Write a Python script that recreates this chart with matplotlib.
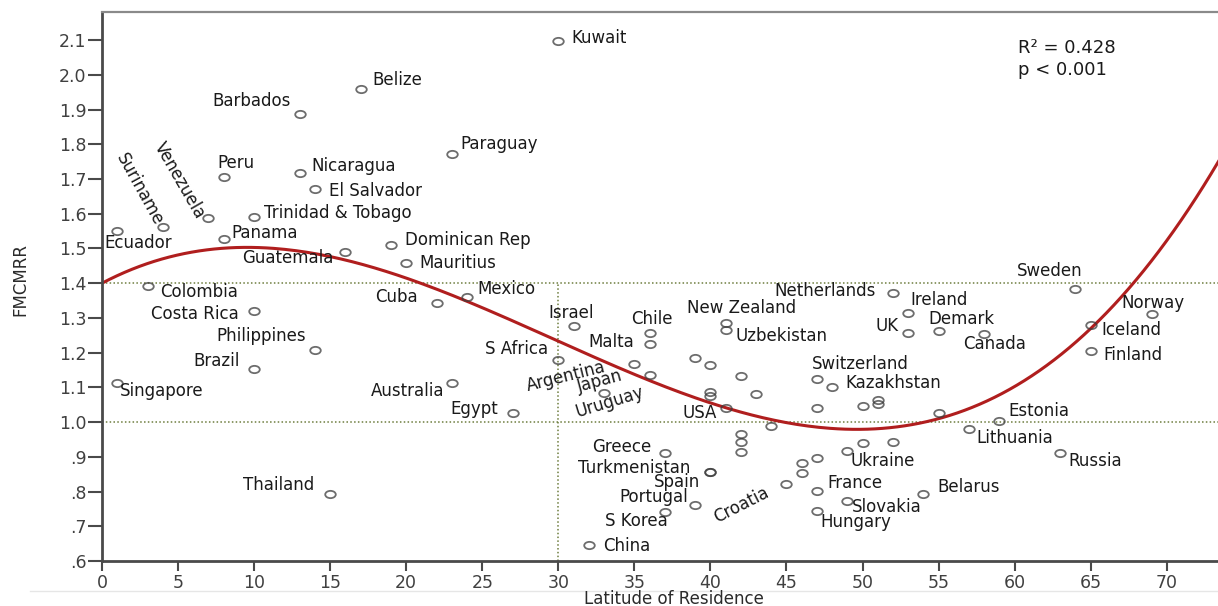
import numpy as np
import matplotlib
matplotlib.use('Agg')
import matplotlib.pyplot as plt
from matplotlib.path import Path
from matplotlib.markers import MarkerStyle
from matplotlib.transforms import Affine2D
from matplotlib.lines import Line2D

# latitude of residence and FMCMRR per country ('' = unlabelled point)
countries = ['Kuwait', 'Belize', 'Barbados', 'Paraguay', 'Peru', 'Nicaragua',
             'El Salvador', 'Trinidad & Tobago', 'Venezuela', 'Suriname',
             'Ecuador', 'Panama', 'Guatemala', 'Dominican Rep', 'Mauritius',
             'Colombia', 'Cuba', 'Mexico', 'Costa Rica', 'Philippines',
             'Brazil', 'Singapore', 'Australia', 'Egypt', 'Thailand',
             'Israel', 'Chile', 'Malta', 'S Africa', 'Argentina', 'Japan',
             'Uruguay', 'USA', 'New Zealand', 'Uzbekistan', 'Netherlands',
             'Ireland', 'UK', 'Demark', 'Canada', 'Sweden', 'Norway',
             'Iceland', 'Finland', 'Switzerland', 'Kazakhstan', 'Estonia',
             'Lithuania', 'Russia', 'Ukraine', 'France', 'Belarus',
             'Slovakia', 'Hungary', 'Croatia', 'Greece', 'Turkmenistan',
             'Spain', 'Portugal', 'S Korea', 'China',
             '', '', '', '', '', '', '', '', '', '',
             '', '', '', '', '', '', '', '', '', '']
latitude = [30, 17, 13, 23, 8, 13,
            14, 10, 7, 4,
            1, 8, 16, 19, 20,
            3, 22, 24, 10, 14,
            10, 1, 23, 27, 15,
            31, 36, 36, 30, 35, 36,
            33, 41, 41, 41, 52,
            53, 53, 55, 58, 64, 69,
            65, 65, 47, 48, 59,
            57, 63, 49, 47, 54,
            49, 47, 45, 37, 40,
            40, 39, 37, 32,
            39, 40, 42, 40, 40, 43, 44, 42, 42, 42,
            46, 46, 47, 47, 50, 51, 51, 55, 50, 52]
fmcmrr = [2.097, 1.960, 1.887, 1.771, 1.705, 1.717,
          1.671, 1.590, 1.587, 1.561,
          1.550, 1.527, 1.489, 1.509, 1.457,
          1.391, 1.342, 1.360, 1.319, 1.209,
          1.152, 1.114, 1.114, 1.025, 0.792,
          1.276, 1.258, 1.224, 1.178, 1.166, 1.137,
          1.083, 1.042, 1.284, 1.264, 1.371,
          1.313, 1.258, 1.261, 1.253, 1.382, 1.310,
          1.279, 1.204, 1.123, 1.100, 1.002,
          0.979, 0.910, 0.916, 0.803, 0.792,
          0.774, 0.743, 0.823, 0.910, 0.855,
          0.855, 0.762, 0.740, 0.645,
          1.186, 1.163, 1.132, 1.086, 1.074, 1.080, 0.988, 0.967, 0.944, 0.913,
          0.852, 0.881, 0.898, 1.040, 1.045, 1.063, 1.051, 1.025, 0.939, 0.944]

# cubic fit: FMCMRR = b0 + b1*lat + b2*lat^2 + b3*lat^3
fit_coefs = [1.40, 0.02311, -0.001444, 1.627e-5]
r_squared = 0.428

xticks = list(range(0, 75, 5))
yticks = [0.6, 0.7, 0.8, 0.9, 1.0, 1.1, 1.2, 1.3, 1.4, 1.5, 1.6, 1.7, 1.8, 1.9, 2.0, 2.1]
ytick_labels = ['.6', '.7', '.8', '.9', '1.0', '1.1', '1.2', '1.3', '1.4', '1.5',
                '1.6', '1.7', '1.8', '1.9', '2.0', '2.1']

# label placement: offset in pixels (x right, y up), alignment, rotation
label_pos = {
    'Kuwait': (13, 3, 'left', 0), 'Belize': (12, 9, 'left', 0),
    'Barbados': (-9, 13, 'right', 0), 'Paraguay': (9, 10, 'left', 0),
    'Peru': (-6, 14, 'left', 0), 'Nicaragua': (12, 7, 'left', 0),
    'El Salvador': (14, -2, 'left', 0), 'Trinidad & Tobago': (10, 4, 'left', 0),
    'Venezuela': (-29, 38, 'center', -60), 'Suriname': (-23, 38, 'center', -61),
    'Ecuador': (-13, -12, 'left', 0), 'Panama': (8, 6, 'left', 0),
    'Guatemala': (-12, -6, 'right', 0), 'Dominican Rep': (14, 5, 'left', 0),
    'Mauritius': (13, 0, 'left', 0), 'Colombia': (12, -6, 'left', 0),
    'Cuba': (-19, 6, 'right', 0), 'Mexico': (10, 8, 'left', 0),
    'Costa Rica': (-15, -3, 'right', 0), 'Philippines': (-9, 14, 'right', 0),
    'Brazil': (-14, 8, 'right', 0), 'Singapore': (3, -8, 'left', 0),
    'Australia': (-7, -8, 'right', 0), 'Egypt': (-15, 4, 'right', 0),
    'Thailand': (-16, 9, 'right', 0), 'Israel': (-2, 13, 'center', 0),
    'Chile': (2, 14, 'center', 0), 'Malta': (-15, 2, 'right', 0),
    'S Africa': (-10, 11, 'right', 0), 'Argentina': (-68, -12, 'center', 14),
    'Japan': (-50, -7, 'center', 15), 'Uruguay': (6, -9, 'center', 17),
    'USA': (-9, -5, 'right', 0), 'New Zealand': (-39, 15, 'left', 0),
    'Uzbekistan': (10, -6, 'left', 0), 'Netherlands': (-17, 2, 'right', 0),
    'Ireland': (2, 13, 'left', 0), 'UK': (-10, 7, 'right', 0),
    'Demark': (-10, 12, 'left', 0), 'Canada': (-21, -10, 'left', 0),
    'Sweden': (-26, 18, 'center', 0), 'Norway': (-30, 11, 'left', 0),
    'Iceland': (11, -5, 'left', 0), 'Finland': (13, -4, 'left', 0),
    'Switzerland': (-5, 15, 'left', 0), 'Kazakhstan': (13, 4, 'left', 0),
    'Estonia': (9, 10, 'left', 0), 'Lithuania': (7, -9, 'left', 0),
    'Russia': (8, -8, 'left', 0), 'Ukraine': (3, -10, 'left', 0),
    'France': (10, 8, 'left', 0), 'Belarus': (14, 7, 'left', 0),
    'Slovakia': (5, -6, 'left', 0), 'Hungary': (3, -11, 'left', 0),
    'Croatia': (-45, -21, 'center', 27), 'Greece': (-13, 6, 'right', 0),
    'Turkmenistan': (-20, 4, 'right', 0), 'Spain': (-10, -10, 'right', 0),
    'Portugal': (-7, 8, 'right', 0), 'S Korea': (3, -9, 'right', 0),
    'China': (14, -1, 'left', 0),
}

plt.rcParams['font.family'] = 'DejaVu Sans'

fig = plt.figure(figsize=(12.18, 6.06), dpi=100)
ax = fig.add_axes([102/1218, 1 - 561/606, 1 - 102/1218, (561 - 12)/606])

# open circles, slightly flattened
ellipse = Path.unit_circle().transformed(Affine2D().scale(1.45, 1.0))
ax.plot(latitude, fmcmrr, linestyle='none', marker=MarkerStyle(ellipse),
        markersize=7.6, markerfacecolor='none', markeredgecolor='#3c3c3c',
        markeredgewidth=1.3, alpha=0.75, zorder=3)

# reference lines
ax.axhline(1.4, color='#6e7d3e', lw=1.1, ls=(0, (1, 1.5)), zorder=1)
ax.axhline(1.0, color='#6e7d3e', lw=1.1, ls=(0, (1, 1.5)), zorder=1)
ax.plot([30, 30], [0.6, 1.4], color='#6e7d3e', lw=1.1, ls=(0, (1, 1.5)), zorder=1)

# cubic trend
xs = np.linspace(0, 73.4, 300)
ys = np.polyval(fit_coefs[::-1], xs)
ax.plot(xs, ys, color='#b01e1e', lw=2.2, zorder=2)

for name, x, y in zip(countries, latitude, fmcmrr):
    if not name:
        continue
    dx, dy, ha, rot = label_pos[name]
    if rot:
        ax.annotate(name, (x, y), xytext=(dx, dy), textcoords='offset pixels',
                    ha='center', va='center', rotation=rot,
                    rotation_mode='anchor', fontsize=12, color='#1a1a1a',
                    annotation_clip=False)
    else:
        ax.annotate(name, (x, y), xytext=(dx, dy), textcoords='offset pixels',
                    ha=ha, va='center', fontsize=12, color='#1a1a1a',
                    annotation_clip=False)

ax.set_xlim(0, 73.37)
ax.set_ylim(0.6, 2.181)
ax.set_xticks(xticks)
ax.set_yticks(yticks)
ax.set_yticklabels(ytick_labels)

for side in ('left', 'bottom'):
    ax.spines[side].set_color('#4a4a4a')
    ax.spines[side].set_linewidth(2.0)
ax.spines['top'].set_color('#8a8a8a')
ax.spines['top'].set_linewidth(1.6)
ax.spines['right'].set_visible(False)

ax.tick_params(axis='y', length=10, width=1.5, color='#4a4a4a', pad=1,
               labelsize=12.5, labelcolor='#404040')
ax.tick_params(axis='x', length=7, width=1.5, color='#4a4a4a', pad=2,
               labelsize=12.5, labelcolor='#404040')

fig.text(674/1218, 1 - 604/606, 'Latitude of Residence', ha='center',
         va='baseline', fontsize=12, color='#2a2a2a')
fig.text(20/1218, 1 - 280/606, 'FMCMRR', rotation=90, ha='center', va='center',
         fontsize=12, color='#2a2a2a',
         family=['Liberation Sans Narrow', 'DejaVu Sans'])

fig.text(1018/1218, 1 - 48/606, 'R\u00b2 = %.3f' % r_squared, fontsize=13,
         color='#1a1a1a', va='center')
fig.text(1018/1218, 1 - 70/606, 'p < 0.001', fontsize=13, color='#1a1a1a',
         va='center')

# thin frame line under the tick labels
fig.add_artist(Line2D([30/1218, 1], [1 - 591/606, 1 - 591/606],
                      color='#e6e6e6', lw=1.0))

fig.savefig('out.png', dpi=100)
